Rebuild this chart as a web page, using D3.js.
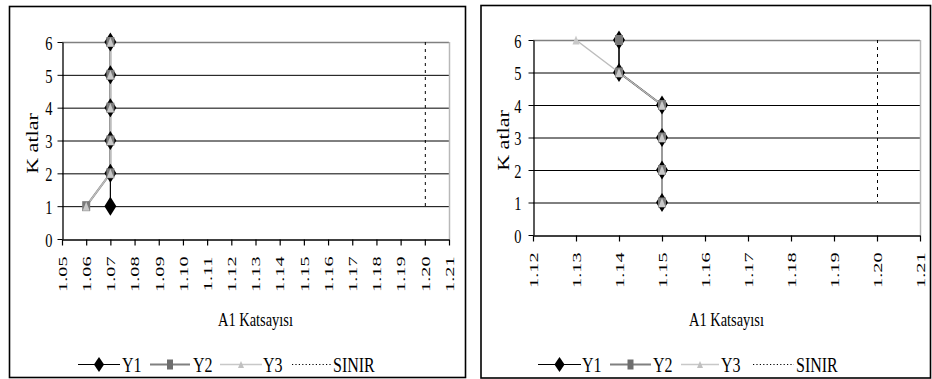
<!DOCTYPE html>
<html>
<head>
<meta charset="utf-8">
<script src="https://cdn.jsdelivr.net/npm/d3@7/dist/d3.min.js"></script>
<style>
  html, body { margin: 0; padding: 0; background: #fff; }
  svg { display: block; }
  text { font-family: "Liberation Serif", "Times New Roman", serif; fill: #000; }
</style>
</head>
<body>
<svg id="chart" width="932" height="379"></svg>
<script>
// Floors (Katlar) on the vertical axis
const floors = [1, 2, 3, 4, 5, 6];
const floorTicks = [0, 1, 2, 3, 4, 5, 6];

// Left panel: A1 coefficient per floor
const leftTicks = ["1.05","1.06","1.07","1.08","1.09","1.10","1.11","1.12","1.13",
                   "1.14","1.15","1.16","1.17","1.18","1.19","1.20","1.21"];
const leftY1 = [1.07, 1.07, 1.07, 1.07, 1.07, 1.07];
const leftY2 = [1.06, 1.07, 1.07, 1.07, 1.07, 1.07];
const leftY3 = [1.06, 1.07, 1.07, 1.07, 1.07, 1.07];

// Right panel: A1 coefficient per floor
const rightTicks = ["1.12","1.13","1.14","1.15","1.16","1.17","1.18","1.19","1.20","1.21"];
const rightY1 = [1.15, 1.15, 1.15, 1.15, 1.14, 1.14];
const rightY2 = [1.15, 1.15, 1.15, 1.15, 1.14, 1.14];
const rightY3 = [1.15, 1.15, 1.15, 1.15, 1.14, 1.13];

// Limit value (SINIR)
const limitValue = 1.20;
const limitFloors = [1, 6];

const seriesNames = ["Y1", "Y2", "Y3", "SINIR"];

const svg = d3.select("#chart");

function drawPanel(cfg) {
  const g = svg.append("g");

  // outer frame
  g.append("rect")
    .attr("x", cfg.frame[0]).attr("y", cfg.frame[1])
    .attr("width", cfg.frame[2]).attr("height", cfg.frame[3])
    .attr("fill", "#fff").attr("stroke", "#000").attr("stroke-width", 1.6);

  const ticks = cfg.ticks.map(Number);
  const x = d3.scaleLinear().domain([ticks[0], ticks[ticks.length - 1]]).range([cfg.plot.x0, cfg.plot.x1]);
  const y = d3.scaleLinear().domain([0, 6]).range([cfg.plot.y0, cfg.plot.y6]);

  // horizontal gridlines
  g.append("g").selectAll("line").data(floors.filter(f => f < 6)).join("line")
    .attr("x1", x.range()[0]).attr("x2", x.range()[1])
    .attr("y1", d => y(d) + 0.5).attr("y2", d => y(d) + 0.5)
    .attr("stroke", "#000").attr("stroke-width", 1);

  // plot-area border (top and right)
  g.append("line")
    .attr("x1", x.range()[0]).attr("x2", x.range()[1])
    .attr("y1", y(6) + 0.5).attr("y2", y(6) + 0.5)
    .attr("stroke", "#808080").attr("stroke-width", 1.5);
  g.append("line")
    .attr("x1", x.range()[1] + 0.5).attr("x2", x.range()[1] + 0.5)
    .attr("y1", y(6)).attr("y2", y(0))
    .attr("stroke", "#b8b8b8").attr("stroke-width", 1.5);

  // limit line
  g.append("line")
    .attr("x1", x(limitValue) + 0.5).attr("x2", x(limitValue) + 0.5)
    .attr("y1", y(limitFloors[1])).attr("y2", y(limitFloors[0]))
    .attr("stroke", "#000").attr("stroke-width", 1).attr("stroke-dasharray", "3,4");

  // y axis
  const yAxis = g.append("g")
    .attr("transform", `translate(${x.range()[0] + 0.5},0)`)
    .call(d3.axisLeft(y).tickValues(floorTicks).tickSize(5).tickSizeOuter(0).tickFormat(d3.format("d")));
  yAxis.select(".domain").attr("stroke", "#000").attr("stroke-width", 1.3);
  yAxis.selectAll(".tick line").attr("stroke", "#000");
  yAxis.selectAll(".tick text")
    .attr("x", 0).attr("dy", "0.38em")
    .attr("transform", `translate(${-cfg.yLabelGap},0) scale(0.76,1)`)
    .attr("text-anchor", "end")
    .style("font-size", "19px")
    .style("font-family", "'Liberation Serif', serif");

  // x axis
  const xAxis = g.append("g")
    .attr("transform", `translate(0,${y(0) + 0.5})`)
    .call(d3.axisBottom(x).tickValues(ticks).tickSize(6).tickSizeOuter(0)
      .tickFormat((d, i) => cfg.ticks[i]));
  xAxis.select(".domain").attr("stroke", "#000").attr("stroke-width", 1.3);
  xAxis.selectAll(".tick line").attr("stroke", "#000").attr("stroke-width", 1.2);
  xAxis.selectAll(".tick text")
    .attr("x", 0).attr("y", 0).attr("dy", "0.34em")
    .attr("text-anchor", "end")
    .attr("transform", "translate(0,17) rotate(-90) scale(1.62,1)")
    .style("font-size", "12.5px")
    .style("font-family", "'Liberation Serif', serif");

  // axis titles
  const cx = (x.range()[0] + x.range()[1]) / 2;
  g.append("text")
    .attr("transform", `translate(${cx},326) scale(0.76,1)`)
    .attr("text-anchor", "middle")
    .style("font-size", "19px")
    .text("A1 Katsayısı");

  const cy = (y(0) + y(6)) / 2 + 3;
  g.append("text")
    .attr("transform", `translate(${cfg.yTitleX},${cy}) rotate(-90) scale(1.3,1)`)
    .attr("text-anchor", "middle")
    .style("font-size", "17px")
    .text("K atlar");

  // series lines (Y2 underneath, Y1, then Y3 on top)
  const line = d3.line().x(d => x(d[0])).y(d => y(d[1]));
  const pts = arr => arr.map((v, i) => [v, floors[i]]);

  g.append("path").datum(pts(cfg.y2)).attr("d", line)
    .attr("fill", "none").attr("stroke", "#808080").attr("stroke-width", 2);
  g.append("path").datum(pts(cfg.y1)).attr("d", line)
    .attr("fill", "none").attr("stroke", "#000").attr("stroke-width", 1.2);
  g.append("path").datum(pts(cfg.y3)).attr("d", line)
    .attr("fill", "none").attr("stroke", "#bdbdbd").attr("stroke-width", 1.5);

  // markers
  const diamond = "M0,-9.5 L6,0 L0,9.5 L-6,0 Z";
  const square = "M-4,-5 L4,-5 L4,5 L-4,5 Z";
  const tri = "M0,-4.5 L3.5,4.5 L-3.5,4.5 Z";

  g.append("g").selectAll("path").data(pts(cfg.y1)).join("path")
    .attr("transform", d => `translate(${x(d[0])},${y(d[1])})`)
    .attr("d", diamond).attr("fill", "#000");
  g.append("g").selectAll("path").data(pts(cfg.y2)).join("path")
    .attr("transform", d => `translate(${x(d[0])},${y(d[1])})`)
    .attr("d", square).attr("fill", "#7a7a7a");
  g.append("g").selectAll("path").data(pts(cfg.y3)).join("path")
    .attr("transform", d => `translate(${x(d[0])},${y(d[1])})`)
    .attr("d", tri).attr("fill", "#c8c8c8");

  // legend
  const L = cfg.legend;
  const ly = 364.5;
  const lg = g.append("g");
  const segs = [
    { name: seriesNames[0], x1: L[0], x2: L[1], stroke: "#000", w: 1.2, dash: null, mark: diamond, mfill: "#000", mscale: "scale(0.85,0.8)" },
    { name: seriesNames[1], x1: L[3], x2: L[4], stroke: "#808080", w: 2, dash: null, mark: "M-3,-5 L3,-5 L3,5 L-3,5 Z", mfill: "#6e6e6e", mscale: "" },
    { name: seriesNames[2], x1: L[6], x2: L[7], stroke: "#c8c8c8", w: 1.5, dash: null, mark: "M0,-3.5 L3,3.5 L-3,3.5 Z", mfill: "#c0c0c0", mscale: "" },
    { name: seriesNames[3], x1: L[9], x2: L[10], stroke: "#000", w: 1, dash: "1.2,2.2", mark: null }
  ];
  const textX = [L[2], L[5], L[8], L[11]];
  segs.forEach((s, i) => {
    lg.append("line").attr("x1", s.x1).attr("x2", s.x2).attr("y1", ly).attr("y2", ly)
      .attr("stroke", s.stroke).attr("stroke-width", s.w)
      .attr("stroke-dasharray", s.dash);
    if (s.mark) {
      lg.append("path").attr("d", s.mark)
        .attr("transform", `translate(${(s.x1 + s.x2) / 2},${ly}) ${s.mscale}`)
        .attr("fill", s.mfill);
    }
    lg.append("text")
      .attr("transform", `translate(${textX[i]},371.5) scale(0.8,1)`)
      .style("font-size", "20px")
      .text(s.name);
  });
}

drawPanel({
  frame: [9.5, 6.5, 456, 371],
  plot: { x0: 62, x1: 449, y0: 239, y6: 42 },
  ticks: leftTicks, y1: leftY1, y2: leftY2, y3: leftY3,
  yLabelGap: 10, yTitleX: 38,
  legend: [78, 120, 122, 150, 190, 193, 220, 262, 263, 292, 331, 333]
});

drawPanel({
  frame: [481, 5.5, 449.5, 372.5],
  plot: { x0: 533, x1: 920, y0: 235, y6: 40 },
  ticks: rightTicks, y1: rightY1, y2: rightY2, y3: rightY3,
  yLabelGap: 12, yTitleX: 509,
  legend: [538, 581, 582, 610, 651, 653, 681, 719, 721, 753, 794, 796]
});
</script>
</body>
</html>
